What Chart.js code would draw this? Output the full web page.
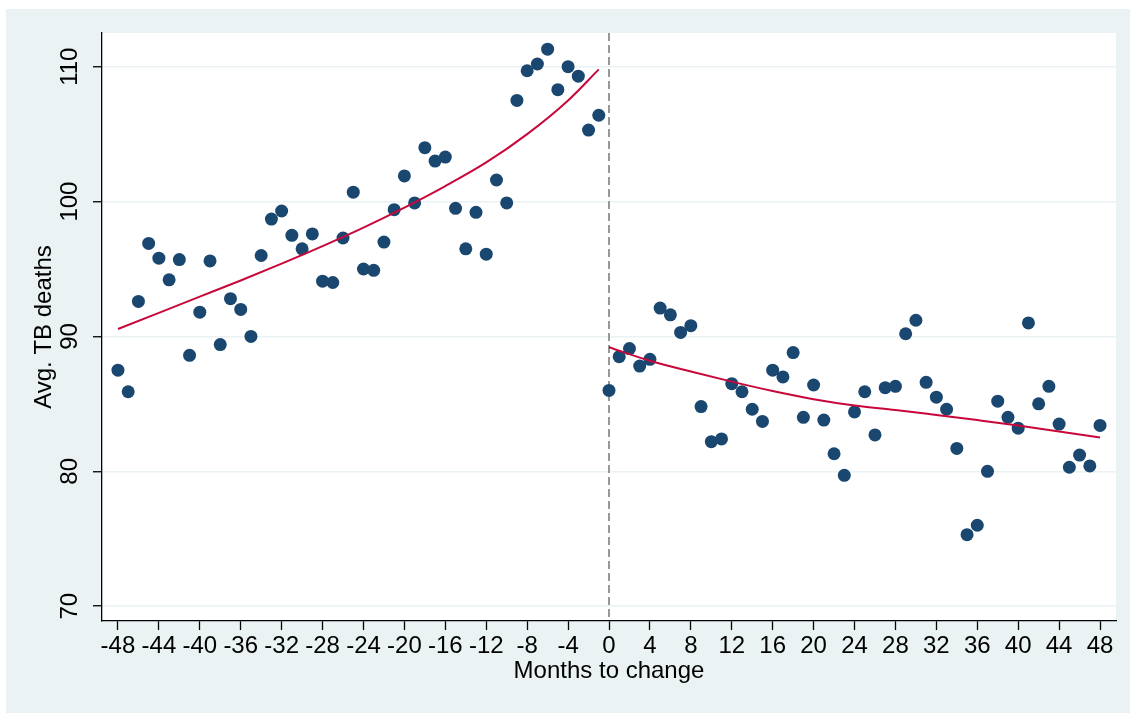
<!DOCTYPE html>
<html>
<head>
<meta charset="utf-8">
<script src="https://cdn.jsdelivr.net/npm/chart.js@4.4.1/dist/chart.umd.min.js"></script>
<style>
  body { margin: 0; background: #ffffff; }
  canvas { display: block; }
</style>
</head>
<body>
<canvas id="chart" width="1130" height="713"></canvas>
<script>
const monthsBefore = [-48, -47, -46, -45, -44, -43, -42, -41, -40, -39, -38, -37, -36, -35, -34, -33,
  -32, -31, -30, -29, -28, -27, -26, -25, -24, -23, -22, -21, -20, -19, -18, -17,
  -16, -15, -14, -13, -12, -11, -10, -9, -8, -7, -6, -5, -4, -3, -2, -1];
const deathsBefore = [87.5, 85.9, 92.6, 96.9, 95.8, 94.2, 95.7, 88.6, 91.8, 95.6, 89.4, 92.8, 92.0, 90.0, 96.0, 98.7,
  99.3, 97.5, 96.5, 97.6, 94.1, 94.0, 97.3, 100.7, 95.0, 94.9, 97.0, 99.4, 101.9, 99.9, 104.0, 103.0,
  103.3, 99.5, 96.5, 99.2, 96.1, 101.6, 99.9, 107.5, 109.7, 110.2, 111.3, 108.3, 110.0, 109.3, 105.3, 106.4];

const monthsAfter = [0, 1, 2, 3, 4, 5, 6, 7, 8, 9, 10, 11, 12, 13, 14, 15, 16,
  17, 18, 19, 20, 21, 22, 23, 24, 25, 26, 27, 28, 29, 30, 31, 32,
  33, 34, 35, 36, 37, 38, 39, 40, 41, 42, 43, 44, 45, 46, 47, 48];
const deathsAfter = [86.0, 88.5, 89.1, 87.8, 88.3, 92.1, 91.6, 90.3, 90.8, 84.8, 82.2, 82.4, 86.5, 85.9, 84.6, 83.7, 87.5,
  87.0, 88.8, 84.0, 86.4, 83.8, 81.3, 79.7, 84.4, 85.9, 82.7, 86.2, 86.3, 90.2, 91.2, 86.6, 85.5,
  84.6, 81.7, 75.3, 76.0, 80.0, 85.2, 84.0, 83.2, 91.0, 85.0, 86.3, 83.5, 80.3, 81.2, 80.4, 83.4];

// fitted curves
const fitBeforeMonths = [-48, -44, -40, -36, -32, -28, -24, -20, -16, -12, -8, -4, -1];
const fitBeforeDeaths = [90.55, 91.75, 92.95, 94.15, 95.4, 96.7, 98.07, 99.55, 101.15, 102.9, 105.0, 107.5, 109.8];
const fitAfterMonths = [0, 4, 8, 12, 16, 20, 24, 28, 32, 36, 40, 44, 48];
const fitAfterDeaths = [89.2, 88.2, 87.4, 86.65, 85.95, 85.35, 84.88, 84.55, 84.18, 83.8, 83.4, 82.95, 82.5];

const xTicks = [-48, -44, -40, -36, -32, -28, -24, -20, -16, -12, -8, -4, 0, 4, 8, 12, 16, 20, 24, 28, 32, 36, 40, 44, 48];
const yTicks = [70, 80, 90, 100, 110];
const changeMonth = 0;

const xyPairs = (xs, ys) => xs.map((x, i) => ({x: x, y: ys[i]}));

const navy = '#1a476f';
const red = '#c8083a';
const bluishGray = '#eaf2f3';

Chart.defaults.font.family = "'Liberation Sans', Arial, sans-serif";
Chart.defaults.color = '#000000';

const backgrounds = {
  id: 'backgrounds',
  beforeDraw(chart) {
    const c = chart.ctx;
    const a = chart.chartArea;
    c.save();
    c.fillStyle = '#ffffff';
    c.fillRect(0, 0, chart.width, chart.height);
    c.fillStyle = bluishGray;
    c.fillRect(6, 9, chart.width - 6, chart.height - 9);
    c.fillStyle = '#ffffff';
    c.fillRect(a.left, a.top, a.right - a.left, a.bottom - a.top);
    c.restore();
  }
};

const changeLine = {
  id: 'changeLine',
  beforeDatasetsDraw(chart) {
    const c = chart.ctx;
    const a = chart.chartArea;
    const x = chart.scales.x.getPixelForValue(changeMonth);
    c.save();
    c.strokeStyle = '#989898';
    c.lineWidth = 2;
    c.setLineDash([8, 4]);
    c.beginPath();
    c.moveTo(x, a.top);
    c.lineTo(x, a.bottom);
    c.stroke();
    c.restore();
  }
};

const ctx = document.getElementById('chart');
const myChart = new Chart(ctx, {
  type: 'scatter',
  data: {
    datasets: [
      {
        data: xyPairs(fitBeforeMonths, fitBeforeDeaths),
        showLine: true,
        borderColor: red,
        borderWidth: 2,
        pointRadius: 0,
        cubicInterpolationMode: 'monotone',
        order: 1
      },
      {
        data: xyPairs(fitAfterMonths, fitAfterDeaths),
        showLine: true,
        borderColor: red,
        borderWidth: 2,
        pointRadius: 0,
        cubicInterpolationMode: 'monotone',
        order: 1
      },
      {
        data: xyPairs(monthsBefore, deathsBefore),
        backgroundColor: navy,
        borderColor: navy,
        borderWidth: 0,
        pointRadius: 6.5,
        order: 2
      },
      {
        data: xyPairs(monthsAfter, deathsAfter),
        backgroundColor: navy,
        borderColor: navy,
        borderWidth: 0,
        pointRadius: 6.5,
        order: 2
      }
    ]
  },
  options: {
    responsive: false,
    devicePixelRatio: 1,
    animation: false,
    layout: {
      padding: {top: 33, right: 14, bottom: 0, left: 0}
    },
    plugins: {
      legend: {display: false},
      tooltip: {enabled: false}
    },
    scales: {
      x: {
        type: 'linear',
        min: -49.56,
        max: 49.56,
        afterBuildTicks: (scale) => { scale.ticks = xTicks.map(v => ({value: v})); },
        afterFit: (scale) => { scale.height = 92; },
        grid: {
          drawOnChartArea: false,
          tickLength: 9,
          tickColor: '#000000',
          tickWidth: 1.3
        },
        border: {color: '#000000', width: 1.3},
        ticks: {
          autoSkip: false,
          maxRotation: 0,
          padding: 2,
          font: {size: 24}
        },
        title: {
          display: true,
          text: 'Months to change',
          font: {size: 24},
          padding: {top: 0, bottom: 27}
        }
      },
      y: {
        type: 'linear',
        min: 68.9,
        max: 112.5,
        afterBuildTicks: (scale) => { scale.ticks = yTicks.map(v => ({value: v})); },
        afterFit: (scale) => { scale.width = 102; },
        grid: {
          color: bluishGray,
          lineWidth: 1.5,
          tickLength: 9,
          tickColor: '#000000',
          tickWidth: 1.3
        },
        border: {color: '#000000', width: 1.3},
        ticks: {
          minRotation: 90,
          maxRotation: 90,
          crossAlign: 'center',
          padding: 3,
          font: {size: 24}
        },
        title: {
          display: true,
          text: 'Avg. TB deaths',
          font: {size: 24},
          padding: {top: 29.5, bottom: 0}
        }
      }
    }
  },
  plugins: [backgrounds, changeLine]
});
</script>
</body>
</html>
